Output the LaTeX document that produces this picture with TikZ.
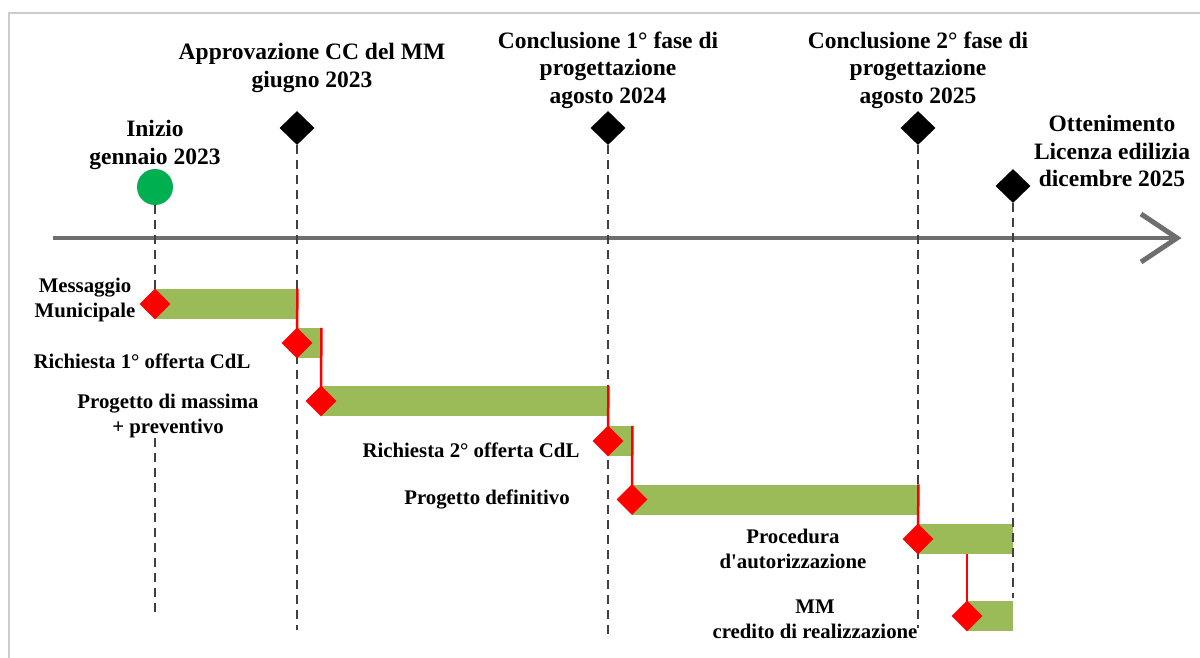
\documentclass[tikz,border=0pt]{standalone}
\usepackage{fontspec}
\setmainfont{Liberation Serif}
\newfontfamily\lserif{Liberation Serif}
\usetikzlibrary{shapes.geometric}
\definecolor{barg}{HTML}{9BBB59}
\definecolor{guidec}{HTML}{404040}
\definecolor{axisc}{HTML}{6E6E6E}
\definecolor{startg}{HTML}{00B050}
\definecolor{framec}{HTML}{CCCCCC}
\begin{document}
\begin{tikzpicture}[x=1pt,y=-1pt,
 toplab/.style={font=\lserif\fontsize{23.5}{27.5}\selectfont\bfseries, align=center, inner sep=0pt},
 lab/.style={font=\lserif\fontsize{20.8}{25}\selectfont\bfseries, align=center, inner sep=0pt},
 ms/.style={diamond, fill=black, inner sep=0pt, minimum width=35pt, minimum height=34pt},
 rd/.style={diamond, fill=red, inner sep=0pt, minimum width=31pt, minimum height=31pt},
 bar/.style={rectangle, fill=barg, inner sep=0pt, minimum height=30pt, anchor=west},
 guide/.style={draw=guidec, line width=2.8pt, dash pattern=on 9pt off 6pt},
 link/.style={draw=red, line width=2.5pt},
 axisline/.style={draw=axisc, line width=4.5pt},
]
\useasboundingbox (0,0) rectangle (1200,658);
% frame
\draw[framec, line width=1.5pt] (9,658) -- (9,13) -- (1200,13);

% axis
\coordinate (ax0) at (53,238);
\coordinate (ax1) at (1177,238);
\coordinate (arrA) at (1141,214);
\coordinate (arrB) at (1141,262);
\draw[axisline] (ax0) -- (ax1);
\draw[axisline, line width=5pt] (arrA) -- (ax1) -- (arrB);

% milestones
\node[circle, fill=startg, inner sep=0pt, minimum size=36pt] (start) at (155,187) {};
\node[ms] (m1) at (297,128) {};
\node[ms] (m2) at (608,128) {};
\node[ms] (m3) at (918,128) {};
\node[ms] (m4) at (1013,186) {};

% bars
\node[bar, minimum width=142pt] (b1) at (155,304) {};
\node[bar, minimum width=24pt]  (b2) at (297,343) {};
\node[bar, minimum width=287pt] (b3) at (321,401) {};
\node[bar, minimum width=24pt]  (b4) at (608,441) {};
\node[bar, minimum width=286pt] (b5) at (632,499.5) {};
\node[bar, minimum width=95pt]  (b6) at (918,539) {};
\node[bar, minimum width=46pt]  (b7) at (967,616) {};

% guides
\coordinate (g1a) at (155,438);
\coordinate (g1b) at (155,617);
\coordinate (g2) at (297,630);
\coordinate (g3) at (608,635);
\coordinate (g4) at (918,628);
\coordinate (g5) at (1013,598);
\coordinate (g0) at (155,290);
\draw[guide] (start.south) -- (g0);
\draw[guide] (g1a) -- (g1b);
\draw[guide] (m1.south) -- (g2);
\draw[guide] (m2.south) -- (g3);
\draw[guide] (m3.south) -- (g4);
\draw[guide] (m4.south) -- (g5);

% red diamond positions
\coordinate (r1) at (155,304);
\coordinate (r2) at (297,343);
\coordinate (r3) at (321,401);
\coordinate (r4) at (608,441);
\coordinate (r5) at (632,499.5);
\coordinate (r6) at (918,539);
\coordinate (r7) at (967,616);

% links
\draw[link] (b1.north east) -- (r2);
\draw[link] (b2.north east) -- (r3);
\draw[link] (b3.north east) -- (r4);
\draw[link] (b4.north east) -- (r5);
\draw[link] (b5.north east) -- (r6);
\draw[link] (r7 |- b6.south) -- (r7);

% diamonds on top of links
\node[rd] (d1) at (r1) {};
\node[rd] (d2) at (r2) {};
\node[rd] (d3) at (r3) {};
\node[rd] (d4) at (r4) {};
\node[rd] (d5) at (r5) {};
\node[rd] (d6) at (r6) {};
\node[rd] (d7) at (r7) {};

% top labels
\node[toplab] (t0) at (155,145) {Inizio\\gennaio 2023};
\node[toplab] (t1) at (312,68) {Approvazione CC del MM\\giugno 2023};
\node[toplab] (t2) at (608,70) {Conclusione 1° fase di\\progettazione\\agosto 2024};
\node[toplab] (t3) at (918,70) {Conclusione 2° fase di\\progettazione\\agosto 2025};
\node[toplab] (t4) at (1112,151) {Ottenimento\\Licenza edilizia\\dicembre 2025};

% task labels
\node[lab] (l1) at (85,300) {Messaggio\\Municipale};
\node[lab] (l2) at (142,361) {Richiesta 1° offerta CdL};
\node[lab] (l3) at (168,416) {Progetto di massima\\+ preventivo};
\node[lab] (l4) at (471,450) {Richiesta 2° offerta CdL};
\node[lab] (l5) at (487,499) {Progetto definitivo};
\node[lab] (l6) at (793,549) {Procedura\\d'autorizzazione};
\node[lab] (l7) at (815,619) {MM\\credito di realizzazione};
\end{tikzpicture}
\end{document}
